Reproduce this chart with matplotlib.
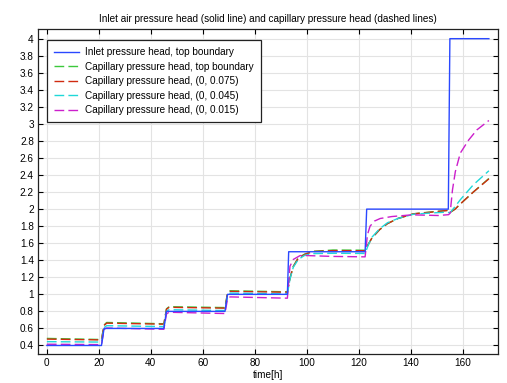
import matplotlib
matplotlib.use("Agg")
import matplotlib.pyplot as plt
from matplotlib.ticker import FuncFormatter

# ---- data ----
t_inlet = [0, 21, 22, 45, 46, 68.5, 69.5, 92.5, 93, 122.4, 123, 154.4, 155, 170]
p_inlet = [0.4, 0.4, 0.6, 0.6, 0.8, 0.8, 1.0, 1.0, 1.5, 1.5, 2.0, 2.0, 4.0, 4.0]

t_cap = [0, 21, 22, 23, 45, 46, 47, 68.5, 69.5, 70.5, 92.5, 93.5, 94.8, 96.7, 99.3,
         102.5, 110, 122.4, 123.5, 125, 128, 131, 135, 141, 148, 154, 155, 157, 159, 164, 170]
p_top = [0.483, 0.47, 0.64, 0.67, 0.655, 0.83, 0.855, 0.845, 1.02, 1.042, 1.03, 1.19, 1.33,
         1.43, 1.475, 1.505, 1.52, 1.518, 1.58, 1.66, 1.76, 1.83, 1.89, 1.945, 1.968, 1.985,
         1.96, 2.0, 2.06, 2.2, 2.36]
p_075 = [0.475, 0.465, 0.635, 0.662, 0.65, 0.825, 0.848, 0.838, 1.015, 1.035, 1.025, 1.19, 1.327,
         1.425, 1.47, 1.503, 1.513, 1.512, 1.58, 1.66, 1.76, 1.83, 1.89, 1.945, 1.965, 1.984,
         1.96, 2.0, 2.06, 2.2, 2.355]
p_045 = [0.445, 0.44, 0.61, 0.632, 0.622, 0.8, 0.82, 0.81, 0.99, 1.015, 1.005, 1.18, 1.32,
         1.41, 1.46, 1.478, 1.482, 1.48, 1.57, 1.67, 1.77, 1.84, 1.89, 1.94, 1.955, 1.965,
         1.955, 2.03, 2.11, 2.285, 2.45]
t_mag = [0, 21, 22, 23, 45, 46, 47, 68.5, 69.5, 70.5, 92.5, 93.5, 94.8, 97.4, 100, 110, 122.4,
         123.3, 124.3, 126, 128.2, 132.7, 140.4, 150.6, 154.5, 155.1, 156, 157.1, 159, 162.2,
         165.4, 170]
p_015 = [0.415, 0.41, 0.59, 0.605, 0.59, 0.77, 0.79, 0.775, 0.95, 0.97, 0.955, 1.33, 1.41, 1.455,
         1.455, 1.445, 1.44, 1.70, 1.80, 1.86, 1.89, 1.913, 1.933, 1.925, 1.935, 1.953, 2.226,
         2.44, 2.657, 2.81, 2.93, 3.04]

labels = ["Inlet pressure head, top boundary",
          "Capillary pressure head, top boundary",
          "Capillary pressure head, (0, 0.075)",
          "Capillary pressure head, (0, 0.045)",
          "Capillary pressure head, (0, 0.015)"]
x_ticks = [0, 20, 40, 60, 80, 100, 120, 140, 160]
y_ticks = [0.4, 0.6, 0.8, 1.0, 1.2, 1.4, 1.6, 1.8, 2.0, 2.2, 2.4, 2.6, 2.8, 3.0,
           3.2, 3.4, 3.6, 3.8, 4.0]

plt.rcParams['font.family'] = ['Liberation Sans', 'DejaVu Sans']
fs = 7.2

fig = plt.figure(figsize=(5.07, 3.83), dpi=100)
ax = fig.add_axes([0.075, 0.0757, 0.9817 - 0.075, 0.9235 - 0.0757])

dash = (7, 3)
lw = 1.0
ax.plot(t_inlet, p_inlet, color='#2a48ff', lw=lw, label=labels[0], zorder=6)
ax.plot(t_cap, p_top, color='#3cc83c', lw=lw, dashes=dash, label=labels[1], zorder=3)
ax.plot(t_cap, p_075, color='#d02a10', lw=lw, dashes=dash, label=labels[2], zorder=4)
ax.plot(t_cap, p_045, color='#1fd8d8', lw=lw, dashes=dash, label=labels[3], zorder=5)
ax.plot(t_mag, p_015, color='#cc1fcc', lw=lw, dashes=dash, label=labels[4], zorder=5)

ax.set_xlim(-3.4, 173.4)
ax.set_ylim(0.30, 4.11)
ax.set_xticks(x_ticks)
ax.set_yticks(y_ticks)
ax.yaxis.set_major_formatter(FuncFormatter(lambda v, p: f"{v:g}"))
ax.tick_params(direction='in', top=True, right=True, length=3.5, width=0.8,
               labelsize=fs, pad=3)
ax.grid(True, color='#e3e3e3', lw=0.8)
ax.set_axisbelow(True)
for s in ax.spines.values():
    s.set_color('#222222')
    s.set_linewidth(0.9)

ax.set_xlabel("time[h]", fontsize=fs, labelpad=1)
ax.set_title("Inlet air pressure head (solid line) and capillary pressure head (dashed lines)",
             fontsize=fs, pad=5)

leg = ax.legend(loc='upper left', bbox_to_anchor=(0.0202, 0.967), borderaxespad=0,
                fontsize=fs, fancybox=False, edgecolor='#222222', framealpha=1,
                handlelength=2.5, labelspacing=0.45, borderpad=0.7, handletextpad=0.6,
                shadow=False)
leg.get_frame().set_linewidth(0.9)

fig.savefig("out.png", dpi=100)
